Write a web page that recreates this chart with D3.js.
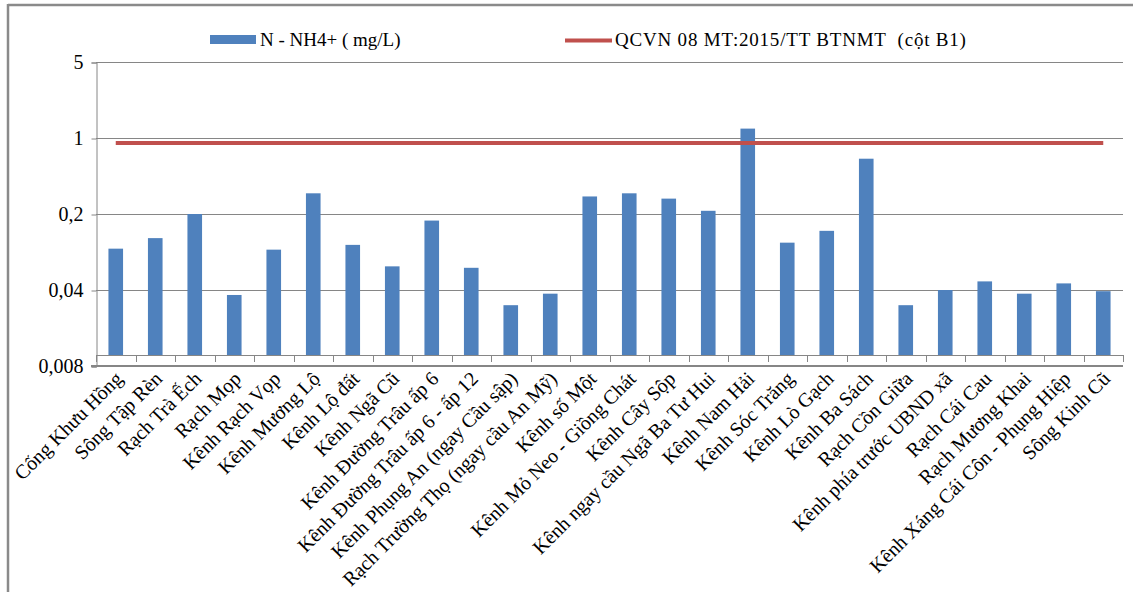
<!DOCTYPE html>
<html>
<head>
<meta charset="utf-8">
<script src="https://cdn.jsdelivr.net/npm/d3@7"></script>
<style>
  html, body { margin: 0; padding: 0; background: #fff; }
  svg text { font-family: "Liberation Serif", "DejaVu Serif", "Times New Roman", serif; }
</style>
</head>
<body>
<svg id="chart" width="1133" height="592"></svg>
<script>
// Sampling sites
const sites = [
  "Cống Khưu Hồng", "Sông Tập Rèn", "Rạch Trà Ếch", "Rạch Mọp", "Kênh Rạch Vọp",
  "Kênh Mương Lộ", "Kênh Lộ đất", "Kênh Ngã Cũ", "Kênh Đường Trâu ấp 6",
  "Kênh Đường Trâu ấp 6 - ấp 12", "Kênh Phụng An (ngay Cầu sập)",
  "Rạch Trường Thọ (ngay cầu An Mỹ)", "Kênh số Một", "Kênh Mỏ Neo - Giồng Chát",
  "Kênh Cây Sộp", "Kênh ngay cầu Ngã Ba Tư Hui", "Kênh Nam Hải", "Kênh Sóc Trăng",
  "Kênh Lò Gạch", "Kênh Ba Sách", "Rạch Cồn Giữa", "Kênh phía trước UBND xã",
  "Rạch Cái Cau", "Rạch Mương Khai", "Kênh Xáng Cái Côn - Phụng Hiệp", "Sông Kinh Cũ"
];

// N-NH4+ concentration (mg/L) per site
const nh4 = [
  0.096, 0.12, 0.2, 0.036, 0.094,
  0.31, 0.104, 0.066, 0.174,
  0.064, 0.029,
  0.037, 0.29, 0.31,
  0.277, 0.214, 1.22, 0.109,
  0.14, 0.645, 0.029, 0.04,
  0.048, 0.037, 0.046, 0.039
];

// QCVN 08-MT:2015/BTNMT column B1 limit (mg/L)
const limitB1 = 0.9;

// Log-5 axis ticks and their labels
const yTicks = [0.008, 0.04, 0.2, 1, 5];
const yTickLabels = ["0,008", "0,04", "0,2", "1", "5"];

const legendLabels = ["N - NH4+ ( mg/L)", "QCVN 08 MT:2015/TT BTNMT  (cột B1)"];

const BLUE = "#4F81BD", RED = "#C0504D", GRID = "#868686";
const SERIF = "Liberation Serif, DejaVu Serif, Times New Roman, serif";

const svg = d3.select("#chart");
const plot = { left: 96, right: 1123, top: 62, bottom: 366 };
const catAxisLift = 11;   // category axis sits slightly above the lowest gridline

const x = d3.scaleBand().domain(sites).range([plot.left, plot.right])
  .paddingInner(0.63).paddingOuter(0.315);
const y = d3.scaleLog().base(5).domain([yTicks[0], yTicks[yTicks.length - 1]])
  .range([plot.bottom, plot.top]);

const catY = y(yTicks[0]) - catAxisLift;

// outer frame (top and left edges)
svg.append("line").attr("x1", 8).attr("x2", 1133).attr("y1", 5).attr("y2", 5)
  .attr("stroke", "#8a8a8a").attr("stroke-width", 2.5);
svg.append("line").attr("x1", 8).attr("x2", 8).attr("y1", 4).attr("y2", 592)
  .attr("stroke", "#8a8a8a").attr("stroke-width", 2.5);

// horizontal gridlines
svg.append("g").selectAll("line").data(yTicks.slice(1)).join("line")
  .attr("x1", plot.left).attr("x2", plot.right)
  .attr("y1", d => Math.round(y(d)) + 0.5).attr("y2", d => Math.round(y(d)) + 0.5)
  .attr("stroke", GRID).attr("stroke-width", 1);

// value axis
const yAxis = d3.axisLeft(y).tickValues(yTicks)
  .tickFormat((d, i) => yTickLabels[i]).tickSize(5).tickPadding(8);
const gy = svg.append("g").attr("transform", `translate(${plot.left + 0.5},0.5)`).call(yAxis)
  .attr("font-family", SERIF).attr("font-size", 20);
gy.select(".domain").attr("stroke", GRID);
gy.selectAll(".tick line").attr("stroke", GRID);
gy.selectAll(".tick text").attr("fill", "#000");

// lowest gridline (0.008), drawn heavier
svg.append("line").attr("x1", plot.left - 5).attr("x2", plot.right)
  .attr("y1", y(yTicks[0])).attr("y2", y(yTicks[0]))
  .attr("stroke", GRID).attr("stroke-width", 2);

// category axis with boundary ticks
svg.append("line").attr("x1", plot.left).attr("x2", plot.right)
  .attr("y1", catY + 0.5).attr("y2", catY + 0.5).attr("stroke", GRID);
const step = x.step();
svg.append("g").selectAll("line").data(d3.range(sites.length + 1)).join("line")
  .attr("x1", i => Math.round(plot.left + i * step) + 0.5)
  .attr("x2", i => Math.round(plot.left + i * step) + 0.5)
  .attr("y1", catY).attr("y2", catY + 7)
  .attr("stroke", GRID);

// bars
svg.append("g").selectAll("rect").data(nh4).join("rect")
  .attr("x", (d, i) => x(sites[i]))
  .attr("width", x.bandwidth())
  .attr("y", d => y(d))
  .attr("height", d => catY - y(d))
  .attr("fill", BLUE);

// limit line across category centres
const limitLine = d3.line()
  .x(d => x(d) + x.bandwidth() / 2)
  .y(() => y(limitB1));
svg.append("path").datum(sites).attr("d", limitLine)
  .attr("fill", "none").attr("stroke", RED).attr("stroke-width", 4);

// rotated category labels
svg.append("g").attr("font-family", SERIF).attr("font-size", 20)
  .selectAll("text").data(sites).join("text")
  .attr("transform", d => `translate(${x(d) + x.bandwidth() / 2 + 8},${catY + 25}) rotate(-45)`)
  .attr("text-anchor", "end")
  .attr("fill", "#000")
  .text(d => d);

// legend
const lg = svg.append("g").attr("font-family", SERIF).attr("font-size", 19);
lg.append("rect").attr("x", 210).attr("y", 35).attr("width", 46).attr("height", 9).attr("fill", BLUE);
lg.append("text").attr("x", 260).attr("y", 46).text(legendLabels[0]);
lg.append("line").attr("x1", 565).attr("x2", 612).attr("y1", 40.5).attr("y2", 40.5)
  .attr("stroke", RED).attr("stroke-width", 4);
lg.append("text").attr("x", 615).attr("y", 46).attr("letter-spacing", 0.8)
  .attr("xml:space", "preserve").text(legendLabels[1]);
</script>
</body>
</html>
